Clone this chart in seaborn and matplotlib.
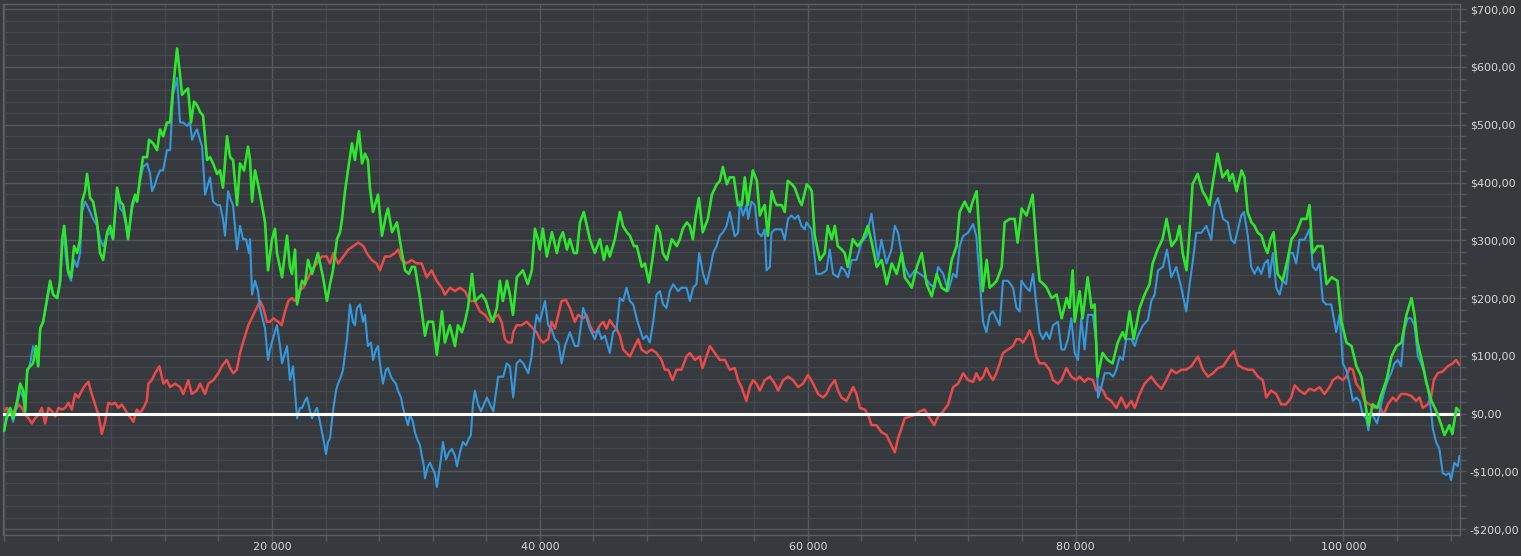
import pandas as pd
import seaborn as sns
import matplotlib.pyplot as plt
from matplotlib.ticker import MultipleLocator, FuncFormatter

# (trade number, cumulative profit $)
green = [
    (0, -30), (220, -2), (450, 10), (670, -8), (970, 22), (1190, 52), (1420, 40), (1570, 4), (1720, 76), (1940, 82),
    (2160, 87), (2390, 117), (2540, 82), (2690, 147), (2910, 159), (3210, 200), (3430, 230), (3660, 206), (3960, 200),
    (4180, 230), (4330, 302), (4480, 325), (4630, 290), (4780, 248), (5000, 236), (5220, 290), (5450, 278), (5670, 302),
    (5820, 367), (6040, 385), (6190, 415), (6420, 373), (6640, 367), (6940, 331), (7160, 278), (7390, 266), (7690, 314),
    (7910, 325), (8130, 302), (8430, 391), (8660, 367), (8880, 361), (9100, 331), (9250, 302), (9550, 361), (9780, 379),
    (9930, 367), (10150, 409), (10370, 444), (10670, 444), (10820, 474), (11120, 468), (11420, 456), (11640, 492),
    (11870, 480), (12160, 504), (12390, 504), (12610, 563), (12910, 632), (13130, 587), (13280, 552), (13510, 558),
    (13730, 563), (13950, 504), (14180, 540), (14400, 534), (14630, 522), (14850, 516), (15150, 439), (15370, 444),
    (15600, 433), (15900, 415), (16120, 421), (16340, 391), (16640, 480), (16870, 444), (17090, 439), (17390, 361),
    (17610, 433), (17910, 421), (18210, 462), (18360, 439), (18510, 367), (18730, 421), (18960, 397), (19250, 361),
    (19480, 331), (19700, 248), (20000, 302), (20220, 320), (20370, 278), (20750, 236), (21120, 308), (21340, 254),
    (21490, 242), (21720, 284), (21870, 189), (22240, 230), (22460, 224), (22690, 266), (22990, 242), (23210, 260),
    (23430, 278), (23810, 236), (24100, 195), (24330, 224), (24550, 248), (24850, 302), (25080, 314), (25230, 337),
    (25450, 385), (25670, 421), (25970, 468), (26190, 439), (26490, 489), (26720, 433), (26940, 450), (27160, 439),
    (27310, 391), (27540, 349), (27910, 379), (28210, 308), (28510, 343), (28660, 355), (28960, 314), (29330, 331),
    (29700, 278), (29930, 248), (30220, 242), (30450, 254), (30670, 254), (31050, 200), (31420, 135), (31640, 159),
    (32020, 159), (32310, 102), (32690, 177), (32910, 123), (33280, 153), (33660, 117), (33880, 153), (34180, 141),
    (34400, 159), (34630, 183), (34930, 242), (35150, 195), (35380, 200), (35670, 206), (35970, 195), (36270, 171),
    (36490, 159), (36790, 183), (37010, 230), (37240, 195), (37540, 230), (37760, 206), (37990, 171), (38280, 236),
    (38510, 242), (38730, 248), (39100, 224), (39400, 248), (39630, 320), (39850, 302), (40000, 284), (40220, 320),
    (40520, 272), (40900, 314), (41270, 278), (41490, 302), (41720, 314), (42020, 284), (42240, 302), (42540, 278),
    (42760, 278), (42990, 331), (43280, 349), (43510, 325), (43730, 302), (44100, 278), (44480, 302), (44780, 266),
    (45000, 290), (45220, 272), (45600, 302), (45970, 349), (46200, 325), (46490, 314), (46720, 308), (47020, 290),
    (47240, 290), (47610, 254), (47840, 260), (48140, 227), (48430, 272), (48730, 325), (48960, 314), (49180, 278),
    (49480, 266), (49850, 302), (50220, 290), (50450, 302), (50670, 320), (50970, 331), (51190, 325), (51420, 302),
    (51640, 343), (51870, 373), (52160, 314), (52540, 337), (52840, 379), (53210, 397), (53440, 403), (53660, 427),
    (53960, 397), (54180, 409), (54480, 409), (54780, 361), (55080, 361), (55300, 409), (55520, 361), (55900, 421),
    (56200, 403), (56420, 343), (56640, 355), (56790, 361), (57020, 308), (57310, 385), (57540, 367), (57690, 361),
    (58060, 361), (58280, 349), (58510, 403), (58810, 397), (59030, 391), (59400, 367), (59550, 361), (59930, 397),
    (60150, 391), (60300, 385), (60520, 308), (60900, 266), (61270, 278), (61490, 325), (61790, 302), (62020, 325),
    (62240, 290), (62540, 284), (62760, 278), (62990, 254), (63360, 302), (63730, 290), (64110, 302), (64480, 325),
    (64780, 296), (65150, 254), (65520, 266), (65900, 224), (66270, 260), (66640, 242), (67020, 278), (67240, 236),
    (67610, 224), (67760, 218), (68140, 254), (68510, 278), (68880, 224), (69260, 203), (69630, 242), (70000, 218),
    (70370, 212), (70750, 266), (71120, 290), (71340, 349), (71720, 367), (72090, 349), (72310, 367), (72610, 385),
    (72840, 302), (73060, 212), (73360, 266), (73580, 218), (73880, 224), (74110, 230), (74480, 254), (74700, 331),
    (75080, 337), (75450, 337), (75670, 296), (75970, 355), (76340, 343), (76570, 361), (76790, 379), (77090, 284),
    (77310, 230), (77610, 224), (77840, 218), (78210, 200), (78580, 206), (78960, 165), (79330, 200), (79550, 183),
    (79780, 248), (79930, 159), (80300, 212), (80520, 165), (80900, 236), (81190, 183), (81420, 189), (81640, 64),
    (82010, 105), (82390, 93), (82760, 87), (83140, 123), (83510, 141), (83730, 129), (84030, 177), (84330, 129),
    (84780, 183), (85150, 206), (85520, 224), (85750, 260), (86120, 284), (86490, 302), (86790, 337), (87160, 290),
    (87540, 302), (87760, 325), (87990, 278), (88280, 248), (88510, 314), (88730, 397), (89110, 415), (89480, 385),
    (89780, 373), (90000, 361), (90230, 397), (90600, 450), (90970, 409), (91340, 421), (91490, 403), (91720, 415),
    (92020, 385), (92390, 421), (92610, 409), (92840, 349), (93130, 331), (93360, 325), (93580, 314), (93880, 308),
    (94110, 290), (94330, 278), (94560, 302), (94780, 314), (95080, 242), (95450, 230), (95820, 266), (96120, 302),
    (96500, 314), (96870, 337), (97240, 337), (97460, 361), (97690, 278), (98060, 290), (98430, 290), (98730, 224),
    (99110, 236), (99550, 230), (99850, 159), (100220, 123), (100600, 117), (100970, 82), (101340, 64), (101570, 28),
    (101870, -20), (102170, 16), (102540, 10), (102840, 34), (103210, 58), (103580, 99), (103960, 117), (104330, 123),
    (104700, 171), (105080, 200), (105300, 171), (105530, 123), (105900, 87), (106200, 52), (106570, 22), (106940, 4),
    (107310, -20), (107540, -37), (107910, -20), (108130, -35), (108430, 10), (108660, 4),
]

blue = [
    (0, -20), (220, -8), (450, 4), (670, -14), (970, 16), (1190, 40), (1420, 28), (1570, 4), (1720, 70), (1940, 87),
    (2160, 117), (2390, 99), (2540, 82), (2690, 147), (2910, 159), (3210, 195), (3430, 224), (3660, 206), (3960, 200),
    (4180, 224), (4330, 290), (4480, 302), (4630, 266), (4780, 242), (5000, 230), (5220, 266), (5450, 254), (5670, 278),
    (5820, 349), (6040, 367), (6190, 361), (6420, 349), (6640, 337), (6940, 325), (7160, 302), (7390, 290), (7690, 308),
    (7910, 314), (8130, 302), (8430, 385), (8660, 355), (8880, 349), (9100, 325), (9250, 302), (9550, 355), (9780, 373),
    (9930, 367), (10150, 403), (10370, 427), (10670, 433), (10900, 415), (11040, 385), (11270, 397), (11420, 409),
    (11640, 421), (11870, 421), (12160, 456), (12390, 456), (12610, 552), (12910, 581), (13130, 504), (13360, 504),
    (13660, 498), (13880, 504), (14030, 474), (14250, 486), (14400, 492), (14630, 474), (14780, 462), (15000, 379),
    (15220, 397), (15370, 409), (15600, 367), (15900, 361), (16120, 361), (16340, 337), (16490, 308), (16720, 385),
    (16870, 373), (17090, 361), (17390, 284), (17610, 325), (17840, 302), (18060, 302), (18280, 278), (18360, 302),
    (18510, 206), (18730, 230), (18960, 212), (19100, 183), (19480, 147), (19700, 93), (19850, 111), (20070, 130),
    (20370, 153), (20600, 117), (20750, 87), (20970, 105), (21120, 117), (21340, 58), (21570, 82), (21870, -8),
    (22090, 10), (22240, 10), (22460, 22), (22610, 28), (22840, 4), (22990, -8), (23210, 4), (23360, 10), (23580, -14),
    (23730, -32), (23880, -49), (24030, -70), (24180, -49), (24330, -43), (24550, 4), (24780, 40), (24930, 52),
    (25150, 64), (25300, 76), (25600, 129), (25820, 189), (26040, 159), (26190, 153), (26340, 183), (26570, 189),
    (26790, 159), (26940, 171), (27160, 117), (27390, 123), (27540, 93), (27760, 111), (27910, 117), (28060, 87),
    (28280, 52), (28510, 76), (28660, 79), (28880, 64), (29030, 58), (29250, 52), (29400, 40), (29630, 28), (29780, 10),
    (30000, -8), (30150, -20), (30300, -2), (30520, -14), (30670, -32), (30820, -43), (31050, -55), (31190, -73),
    (31340, -91), (31420, -112), (31640, -91), (31790, -85), (32020, -97), (32160, -103), (32310, -127), (32460, -103),
    (32610, -79), (32760, -49), (32990, -79), (33210, -67), (33430, -61), (33660, -73), (33810, -91), (34030, -67),
    (34250, -49), (34480, -55), (34700, -43), (34850, -37), (35000, 16), (35150, 40), (35380, 16), (35600, 4),
    (35820, 16), (36050, 28), (36270, 16), (36520, 4), (36890, 64), (37270, 64), (37520, 87), (37760, 82), (38010, 28),
    (38260, 87), (38510, 93), (38760, 87), (39130, 70), (39380, 99), (39510, 129), (39760, 171), (40000, 159),
    (40380, 195), (40620, 153), (40870, 147), (41120, 129), (41370, 123), (41620, 87), (41870, 117), (42240, 141),
    (42610, 117), (42860, 117), (43230, 183), (43490, 165), (43730, 147), (44100, 129), (44350, 147), (44610, 129),
    (44850, 135), (45220, 105), (45470, 141), (45730, 147), (45970, 200), (46220, 195), (46470, 218), (46720, 195),
    (46970, 189), (47220, 165), (47460, 147), (47710, 129), (47960, 135), (48210, 123), (48460, 159), (48710, 206),
    (48960, 212), (49200, 189), (49450, 183), (49700, 212), (49950, 224), (50320, 212), (50570, 218), (50950, 218),
    (51200, 195), (51440, 218), (51690, 224), (51890, 278), (52190, 242), (52440, 224), (52690, 248), (52940, 278),
    (53190, 290), (53430, 308), (53680, 314), (53940, 325), (54180, 349), (54550, 307), (54800, 313), (54930, 367),
    (55170, 343), (55430, 361), (55550, 337), (55800, 367), (56050, 361), (56290, 313), (56550, 307), (56790, 319),
    (56920, 248), (57170, 254), (57290, 313), (57540, 319), (58040, 319), (58280, 301), (58530, 337), (58780, 343),
    (59030, 337), (59280, 343), (59530, 325), (59780, 319), (59900, 331), (60280, 319), (60530, 266), (60650, 242),
    (61020, 242), (61400, 248), (61640, 284), (61890, 242), (62260, 236), (62510, 254), (62760, 248), (63010, 236),
    (63270, 266), (63640, 266), (64010, 296), (64380, 307), (64760, 346), (65000, 307), (65250, 266), (65500, 301),
    (65880, 260), (66250, 284), (66500, 325), (66740, 313), (67000, 278), (67240, 254), (67610, 236), (67990, 248),
    (68360, 242), (68730, 236), (69110, 224), (69480, 218), (69730, 254), (70110, 242), (70480, 212), (70850, 242),
    (71100, 236), (71350, 290), (71590, 307), (71970, 313), (72340, 328), (72590, 307), (72840, 230), (73090, 159),
    (73340, 141), (73580, 171), (73830, 177), (74080, 165), (74330, 153), (74580, 230), (74950, 230), (75330, 218),
    (75580, 183), (75820, 177), (75950, 230), (76320, 218), (76570, 212), (76820, 242), (77070, 189), (77310, 141),
    (77560, 129), (77810, 141), (78060, 129), (78310, 153), (78680, 159), (78940, 111), (79180, 111), (79430, 129),
    (79680, 165), (79930, 105), (80170, 93), (80420, 165), (80670, 111), (80920, 171), (81290, 171), (81540, 123),
    (81670, 28), (81920, 46), (82170, 70), (82540, 70), (82790, 64), (83040, 76), (83290, 99), (83530, 93),
    (83780, 129), (84160, 129), (84410, 117), (84650, 135), (85030, 153), (85400, 162), (85650, 195), (85900, 206),
    (86150, 248), (86520, 254), (86820, 284), (87140, 236), (87520, 254), (87890, 218), (88260, 177), (88510, 224),
    (88760, 266), (89010, 313), (89380, 313), (89760, 325), (90130, 301), (90380, 361), (90630, 373), (91010, 337),
    (91370, 331), (91620, 301), (91870, 295), (92120, 319), (92370, 343), (92570, 349), (92860, 307), (93110, 254),
    (93360, 242), (93610, 254), (93860, 242), (94110, 260), (94360, 266), (94480, 236), (94730, 278), (94980, 218),
    (95230, 206), (95480, 230), (95720, 224), (95970, 278), (96220, 278), (96470, 260), (96720, 301), (97090, 301),
    (97460, 319), (97710, 254), (97960, 248), (98210, 260), (98460, 195), (98710, 189), (99090, 189), (99460, 141),
    (99710, 171), (99950, 87), (100200, 76), (100450, 52), (100700, 22), (100950, 28), (101200, 22), (101440, -2),
    (101690, -8), (101860, -29), (102060, 4), (102310, -8), (102510, -17), (102810, 16), (103060, 40), (103310, 58),
    (103560, 70), (103800, 87), (104050, 93), (104300, 82), (104550, 147), (104800, 165), (105050, 165), (105300, 153),
    (105550, 99), (105800, 87), (106050, 70), (106300, 46), (106540, 4), (106670, -26), (106910, -49), (107160, -61),
    (107410, -103), (107660, -106), (107910, -103), (108030, -115), (108280, -85), (108530, -91), (108660, -73),
]

red = [
    (0, 4), (200, 10), (450, -2), (700, 4), (950, 10), (1070, 16), (1320, 10), (1570, -2), (1820, -8), (2070, -17),
    (2310, -8), (2560, -2), (2810, 10), (3060, -17), (3310, 10), (3560, 4), (3810, -5), (4050, 10), (4300, 7),
    (4550, 10), (4800, 19), (5050, 7), (5300, 34), (5550, 28), (5800, 40), (6050, 49), (6290, 55), (6540, 34),
    (6790, 16), (7040, -2), (7290, -35), (7540, -14), (7790, 19), (8040, 16), (8280, 19), (8530, 10), (8780, 16),
    (9030, 7), (9280, -2), (9650, -14), (9900, 7), (10150, 1), (10400, 10), (10650, 22), (10770, 52), (11020, 58),
    (11270, 70), (11590, 82), (11890, 52), (12140, 58), (12390, 46), (12760, 52), (13130, 46), (13380, 34),
    (13750, 58), (14010, 34), (14380, 40), (14630, 52), (15000, 34), (15250, 52), (15620, 58), (15990, 70),
    (16250, 82), (16620, 93), (16870, 79), (17110, 70), (17370, 76), (17610, 105), (17860, 125), (18230, 153),
    (18480, 165), (18860, 183), (19110, 195), (19350, 183), (19610, 159), (19850, 159), (20100, 165), (20470, 159),
    (20720, 153), (20970, 177), (21220, 195), (21470, 200), (21720, 195), (21960, 212), (22340, 218), (22590, 230),
    (22960, 248), (23340, 260), (23710, 272), (24080, 272), (24330, 260), (24580, 278), (24950, 260), (25320, 272),
    (25700, 284), (26070, 290), (26440, 296), (26820, 290), (27070, 278), (27440, 266), (27810, 260), (28060, 248),
    (28430, 272), (28810, 272), (29180, 278), (29430, 284), (29680, 266), (30050, 260), (30430, 266), (30800, 260),
    (31170, 260), (31550, 236), (31920, 248), (32290, 230), (32670, 218), (32910, 206), (33290, 218), (33660, 212),
    (34030, 218), (34400, 212), (34780, 195), (35150, 195), (35520, 177), (35900, 171), (36270, 159), (36520, 165),
    (36890, 171), (37140, 159), (37390, 129), (37640, 123), (37890, 123), (38010, 141), (38260, 153), (38630, 153),
    (39010, 159), (39260, 153), (39510, 147), (39760, 141), (40000, 129), (40250, 123), (40620, 129), (40870, 159),
    (41120, 147), (41370, 171), (41620, 195), (41940, 197), (42240, 183), (42610, 159), (42860, 171), (43230, 165),
    (43490, 171), (43730, 153), (43980, 141), (44230, 141), (44480, 153), (44730, 159), (44970, 147), (45220, 162),
    (45470, 153), (45720, 147), (45970, 135), (46220, 111), (46470, 105), (46720, 99), (46970, 111), (47340, 129),
    (47590, 111), (47960, 105), (48340, 111), (48710, 105), (49080, 93), (49330, 76), (49580, 76), (49910, 58),
    (50200, 76), (50570, 76), (50950, 99), (51200, 105), (51570, 93), (51940, 99), (52140, 79), (52440, 99),
    (52690, 117), (53060, 105), (53430, 93), (53810, 93), (54180, 76), (54550, 79), (54800, 58), (55050, 46),
    (55420, 22), (55670, 46), (55920, 58), (56170, 52), (56420, 40), (56790, 58), (57170, 64), (57540, 52),
    (57790, 40), (58160, 58), (58530, 64), (58900, 58), (59280, 46), (59650, 52), (60020, 67), (60400, 52),
    (60770, 34), (61150, 28), (61400, 34), (61640, 46), (62020, 58), (62260, 40), (62510, 28), (62890, 22),
    (63140, 34), (63390, 46), (63640, 34), (63890, 10), (64260, 7), (64510, -2), (64760, -20), (65130, -20),
    (65500, -32), (65880, -37), (66130, -49), (66500, -67), (66740, -43), (66990, -26), (67240, -8), (67610, -5),
    (67990, -2), (68360, 4), (68730, 7), (69110, -8), (69440, -20), (69730, -5), (70110, 4), (70480, 16), (70850, 46),
    (71230, 52), (71600, 70), (71970, 58), (72350, 55), (72590, 70), (72840, 58), (73090, 64), (73340, 79),
    (73580, 67), (73830, 58), (74080, 70), (74330, 87), (74580, 105), (74950, 111), (75330, 117), (75580, 129),
    (75820, 129), (76070, 123), (76320, 132), (76570, 144), (76820, 129), (77070, 99), (77310, 87), (77690, 87),
    (78060, 76), (78310, 58), (78680, 52), (78940, 58), (79310, 79), (79680, 64), (80050, 58), (80300, 64),
    (80670, 55), (80920, 61), (81290, 58), (81540, 40), (81790, 46), (82040, 40), (82290, 28), (82660, 22),
    (83040, 10), (83410, 28), (83780, 10), (84160, 22), (84410, 10), (84780, 34), (85150, 52), (85650, 64),
    (86020, 52), (86400, 43), (86770, 58), (87140, 76), (87520, 70), (87890, 76), (88260, 76), (88640, 82),
    (89130, 99), (89510, 76), (89880, 64), (90260, 70), (90630, 79), (91010, 82), (91490, 99), (91810, 108),
    (92120, 84), (92490, 79), (92860, 76), (93240, 76), (93610, 64), (93980, 58), (94230, 28), (94600, 40),
    (94980, 34), (95350, 16), (95720, 16), (96100, 28), (96350, 49), (96720, 40), (97090, 34), (97460, 43),
    (97840, 40), (98210, 46), (98580, 34), (98960, 46), (99210, 58), (99580, 64), (99950, 58), (100200, 64),
    (100450, 79), (100700, 76), (100950, 52), (101320, 40), (101570, 22), (101940, 16), (102310, 10), (102680, 13),
    (103010, -2), (103310, 16), (103680, 28), (103930, 22), (104300, 34), (104670, 34), (105050, 31), (105420, 22),
    (105670, 28), (105920, 10), (106290, 16), (106540, 28), (106740, 58), (107040, 70), (107410, 73), (107790, 82),
    (108160, 87), (108410, 93), (108660, 84),
]

BG = "#36393d"
MINOR = "#44474b"
MAJOR = "#55585c"
TXT = "#d8d8d8"

sns.set_theme(style="dark")
plt.rcParams["font.family"] = ["DejaVu Sans"]

fig = plt.figure(figsize=(15.21, 5.56), dpi=100, facecolor=BG)
ax = fig.add_axes([0.0022, 0.0378, 0.9577, 0.955])
ax.set_facecolor(BG)

frames = []
for name, pts in [("red", red), ("blue", blue), ("green", green)]:
    d = pd.DataFrame(pts, columns=["trade", "profit"])
    d["series"] = name
    frames.append(d)
df = pd.concat(frames, ignore_index=True)

styles = {"red": ("#e94b4b", 1.8, 2), "blue": ("#3598dc", 1.5, 3), "green": ("#2fe62f", 1.9, 4)}
for name, (col, lw, z) in styles.items():
    sns.lineplot(data=df[df["series"] == name], x="trade", y="profit", color=col,
                 linewidth=lw, estimator=None, errorbar=None, ax=ax, zorder=z)

ax.axhline(0, color="white", linewidth=2.2, zorder=3.5)

ax.set_xlim(-60, 108700)
ax.set_ylim(-210, 709)

ax.xaxis.set_major_locator(MultipleLocator(20000))
ax.xaxis.set_minor_locator(MultipleLocator(4000))
ax.yaxis.set_major_locator(MultipleLocator(100))
ax.yaxis.set_minor_locator(MultipleLocator(20))
ax.xaxis.set_major_formatter(FuncFormatter(lambda v, p: "" if v <= 0 else f"{int(v):,}".replace(",", " ")))


def money(v, p):
    s = f"{abs(v):,.2f}".replace(".", ",")
    return ("-$" if v < 0 else "$") + s


ax.yaxis.set_major_formatter(FuncFormatter(money))
ax.yaxis.tick_right()

ax.grid(which="minor", color=MINOR, linewidth=1.0)
ax.grid(which="major", color=MAJOR, linewidth=1.0)
ax.set_axisbelow(True)

ax.tick_params(which="both", direction="out", length=4, width=1, color=MAJOR,
               labelcolor=TXT, labelsize=8, bottom=True, right=True, left=False)
ax.tick_params(axis="y", which="both", pad=3)
ax.tick_params(axis="x", which="both", pad=1)

for s in ax.spines.values():
    s.set_color("#5c5f63")
    s.set_linewidth(1)

ax.set_xlabel("")
ax.set_ylabel("")
legend = ax.get_legend()
if legend:
    legend.remove()

fig.savefig("out.png", dpi=100, facecolor=BG)
